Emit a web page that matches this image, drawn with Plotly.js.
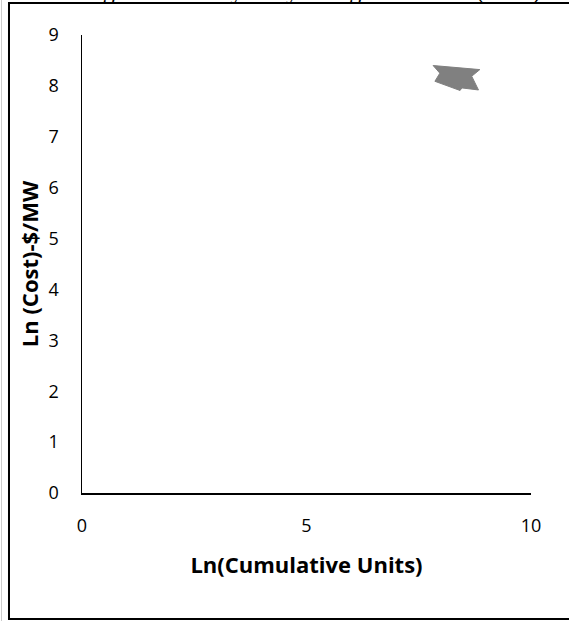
<!DOCTYPE html>
<html>
<head>
<meta charset="utf-8">
<script src="https://cdn.plot.ly/plotly-3.0.1.min.js"></script>
<style>
html,body{margin:0;padding:0;background:#fff;}
#chart{width:569px;height:621px;}
</style>
</head>
<body>
<div id="chart"></div>
<script>
var lnUnits = [7.82, 8.86, 8.68, 8.83, 8.46, 8.42, 7.86, 7.97, 7.82];
var lnCost  = [8.40, 8.32, 8.19, 7.92, 7.96, 7.91, 8.09, 8.25, 8.40];

var xTicks = [0, 5, 10];
var yTicks = [0, 1, 2, 3, 4, 5, 6, 7, 8, 9];

var chartTitle = "Learning Curve Analysis by Using Wind Data (2015)";
var xTitle = "Ln(Cumulative Units)";
var yTitle = "Ln (Cost)-$/MW";

var font = "'Open Sans', Lato, sans-serif";

var trace = {
  x: lnUnits,
  y: lnCost,
  type: "scatter",
  mode: "lines",
  fill: "toself",
  fillcolor: "#808080",
  line: {color: "#808080", width: 1},
  hoverinfo: "skip",
  showlegend: false
};

var layout = {
  width: 569,
  height: 621,
  margin: {l: 82, r: 38, t: 35, b: 128},
  paper_bgcolor: "#ffffff",
  plot_bgcolor: "#ffffff",
  showlegend: false,
  font: {family: font, size: 18, color: "#000"},
  xaxis: {
    range: [0, 10],
    tickvals: xTicks,
    ticktext: xTicks.map(String),
    showgrid: false,
    zeroline: false,
    showline: true,
    linecolor: "#000",
    linewidth: 1.5,
    ticks: "",
    ticklabelstandoff: 16,
    tickfont: {family: font, size: 18, color: "#000"},
    title: {text: xTitle, font: {family: font, size: 22, color: "#000", weight: "bold"}, standoff: 21},
    fixedrange: true
  },
  yaxis: {
    range: [0, 9],
    tickvals: yTicks,
    ticktext: yTicks.map(String),
    showgrid: false,
    zeroline: false,
    showline: true,
    linecolor: "#000",
    linewidth: 1.5,
    ticks: "",
    ticklabelstandoff: 18,
    tickfont: {family: font, size: 18, color: "#000"},
    title: {text: yTitle, font: {family: font, size: 22, color: "#000", weight: "bold"}, standoff: 4},
    fixedrange: true
  },
  shapes: [{
    type: "rect",
    xref: "paper", yref: "paper",
    x0: -0.1626, x1: 1.12, y0: -0.2751, y1: 1.0699,
    line: {color: "#000", width: 2},
    fillcolor: "rgba(0,0,0,0)",
    layer: "above"
  }, {
    type: "line",
    xref: "paper", yref: "paper",
    x0: -0.1793, x1: -0.1793, y0: -0.3, y1: 1.1,
    line: {color: "#cccccc", width: 1},
    layer: "above"
  }],
  annotations: [{
    text: chartTitle,
    xref: "paper", yref: "paper",
    x: 0.45, y: 1.064,
    xanchor: "center", yanchor: "bottom",
    showarrow: false,
    font: {family: "'Liberation Serif', serif", size: 24, color: "#000"}
  }]
};

Plotly.newPlot("chart", [trace], layout, {staticPlot: true, displayModeBar: false});
</script>
</body>
</html>
